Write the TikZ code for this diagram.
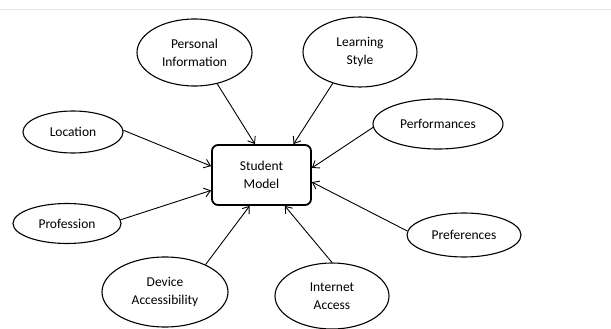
\documentclass[tikz,border=0pt]{standalone}
\usepackage{fontspec}
\setmainfont{Carlito}
\usepackage{tikz}
\usetikzlibrary{arrows.meta}
\usetikzlibrary{shapes.geometric}

\begin{document}
\begin{tikzpicture}[x=1pt,y=-1pt,
    font=\fontsize{13.5}{18}\selectfont,
    attr/.style={draw,ellipse,line width=1.1pt,inner sep=0pt,align=center},
    arr/.style={line width=0.9pt,-{Straight Barb[length=6pt,width=9pt]}}]
  \useasboundingbox (0,0) rectangle (611,329);
  \draw[gray!20,line width=0.6pt] (0,9) -- (611,9);
  \node[draw,rectangle,rounded corners=6pt,line width=1.8pt,
        minimum width=99pt,minimum height=60pt,align=center] (model) at (261.5,175) {Student\\Model};
  \node[attr,minimum width=115pt,minimum height=67pt] (pinfo) at (194.5,52.5) {Personal\\Information};
  \node[attr,minimum width=114pt,minimum height=70pt] (lstyle) at (360,52) {Learning\\Style};
  \node[attr,minimum width=100pt,minimum height=42pt] (loc) at (73,132) {Location};
  \node[attr,minimum width=130pt,minimum height=50pt] (perf) at (438,124) {Performances};
  \node[attr,minimum width=108pt,minimum height=40pt] (prof) at (67,223.5) {Profession};
  \node[attr,minimum width=114pt,minimum height=44pt] (pref) at (464,235) {Preferences};
  \node[attr,minimum width=126pt,minimum height=70pt] (device) at (165,292) {Device\\Accessibility};
  \node[attr,minimum width=114pt,minimum height=66pt] (inet) at (332,296) {Internet\\Access};
  \draw[arr] (pinfo.306) -- (model.102);
  \draw[arr] (lstyle.229) -- (model.44.5);
  \draw[arr] (loc.2) -- (model.170);
  \draw[arr] (perf.183.5) -- (model.8);
  \draw[arr] (prof.4) -- (model.197);
  \draw[arr] (pref.176) -- (model.352);
  \draw[arr] (device.34) -- (model.249);
  \draw[arr] (inet.90) -- (model.307);
\end{tikzpicture}
\end{document}
